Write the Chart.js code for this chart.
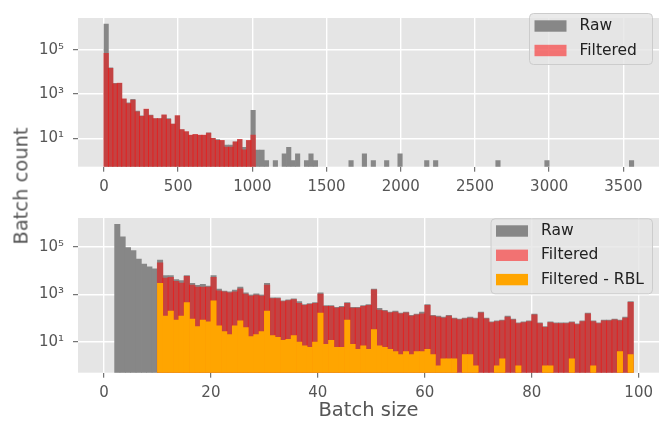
<!DOCTYPE html>
<html>
<head>
<meta charset="utf-8">
<script src="https://cdn.jsdelivr.net/npm/chart.js@4.4.0/dist/chart.umd.min.js"></script>
<style>
html, body { margin: 0; padding: 0; background: #ffffff; }
#wrap { position: relative; width: 665px; height: 426px; font-family: "DejaVu Sans", sans-serif; }
#wrap canvas { position: absolute; left: 0; }
#ylab { position: absolute; left: 21px; top: 186px; transform: translate(-50%, -50%) rotate(-90deg);
        font-size: 19.5px; color: #555555; white-space: nowrap; }
</style>
</head>
<body>
<div id="wrap">
  <canvas id="topChart" width="665" height="200" style="top:0"></canvas>
  <canvas id="bottomChart" width="665" height="226" style="top:200px"></canvas>
  <div id="ylab">Batch count</div>
</div>
<script>
// Top histogram: bins of width 30 starting at 0
const topBinStart = 0;
const topBinWidth = 30;
const topRaw = [
  1480000, 15500, 3090, 3090, 600, 407, 589, 170, 105, 209,
  115, 78, 78, 115, 78, 44, 105, 25, 20, 14,
  15, 14, 14, 18, 10, 9, 8, 5, 5, 7,
  9, 4, 8, 186, 3, 3, 1, 0, 1, 0,
  2, 4, 1, 2, 0, 1, 2, 1, 0, 0,
  0, 0, 0, 0, 0, 1, 0, 0, 2, 0,
  1, 0, 0, 1, 0, 0, 2, 0, 0, 0,
  0, 0, 1, 0, 1, 0, 0, 0, 0, 0,
  0, 0, 0, 0, 0, 0, 0, 0, 1, 0,
  0, 0, 0, 0, 0, 0, 0, 0, 0, 1,
  0, 0, 0, 0, 0, 0, 0, 0, 0, 0,
  0, 0, 0, 0, 0, 0, 0, 0, 1, 0
];
const topFiltered = [
  69000, 14500, 2880, 3090, 600, 372, 537, 158, 98, 209,
  107, 78, 78, 115, 72, 44, 105, 25, 20, 14,
  15, 14, 14, 17, 10, 8, 8, 4, 4, 7,
  9, 3, 8, 14
];

// Bottom histogram: bins of width 1 starting at 2
const bottomBinStart = 2;
const bottomBinWidth = 1;
const bottomRaw = [
  891000, 263000, 93300, 70800, 30900, 19100, 14500, 12000,
  28200, 6310, 6310, 4270, 3890, 6310, 2950, 2450, 2690, 2240,
  6310, 1700, 1410, 1290, 1550, 2040, 1170, 977, 1070, 977,
  2950, 724, 724, 550, 603, 661, 501, 380, 417, 457,
  1170, 347, 347, 288, 316, 457, 288, 288, 347, 380,
  1700, 263, 219, 182, 200, 166, 182, 135, 151, 182,
  380, 135, 123, 112, 135, 102, 93, 102, 112, 102,
  182, 102, 71, 78, 85, 123, 93, 65, 71, 78,
  151, 65, 45, 71, 65, 65, 65, 71, 59, 78,
  166, 78, 65, 85, 85, 93, 85, 112, 501
];
const bottomFiltered = [
  0, 0, 0, 0, 0, 0, 0, 0,
  20900, 4790, 5250, 3550, 2950, 5750, 2450, 2040, 2040, 2040,
  5250, 1410, 1290, 1170, 1290, 1700, 1020, 851, 933, 851,
  2450, 661, 661, 501, 550, 603, 417, 347, 380, 417,
  1020, 316, 316, 263, 288, 417, 263, 263, 316, 347,
  1550, 219, 200, 166, 182, 151, 166, 123, 138, 151,
  347, 123, 112, 102, 123, 93, 85, 93, 102, 93,
  166, 93, 65, 71, 78, 112, 85, 59, 65, 71,
  138, 59, 41, 65, 59, 59, 59, 65, 54, 71,
  151, 71, 59, 78, 78, 85, 78, 102, 457
];
const bottomRbl = [
  0, 0, 0, 0, 0, 0, 0, 0,
  2950, 123, 200, 85, 123, 457, 93, 45, 85, 71,
  550, 49, 28, 21, 49, 78, 41, 17, 21, 28,
  200, 19, 16, 12, 13, 19, 10, 7, 6, 10,
  166, 8, 12, 6, 6, 85, 8, 5, 7, 5,
  34, 7, 6, 5, 4, 3, 4, 3, 4, 4,
  5, 3, 1, 2, 2, 2, 0, 3, 3, 1,
  0, 0, 0, 1, 2, 0, 0, 1, 0, 0,
  0, 0, 1, 1, 0, 0, 0, 2, 0, 0,
  0, 1, 0, 0, 0, 0, 4, 0, 3
];

const topXTicks = [0, 500, 1000, 1500, 2000, 2500, 3000, 3500];
const bottomXTicks = [0, 20, 40, 60, 80, 100];
const yTicks = [10, 1000, 100000];
const seriesLabels = ['Raw', 'Filtered', 'Filtered - RBL'];

const RAW_COLOR = '#878787';
const FILT_COLOR = 'rgba(255, 0, 0, 0.5)';
const RBL_COLOR = '#ffa500';
const SUP = { 1: '\u00b9', 3: '\u00b3', 5: '\u2075' };

Chart.defaults.font.family = '"DejaVu Sans", sans-serif';

function toPoints(counts, start, width) {
  return counts.map((c, i) => ({ x: start + (i + 0.5) * width, y: c > 0 ? c : null }));
}

// ggplot-like grey panel behind the grid
const panelBg = {
  id: 'panelBg',
  beforeDraw(chart) {
    const a = chart.chartArea;
    chart.ctx.save();
    chart.ctx.fillStyle = '#e5e5e5';
    chart.ctx.fillRect(a.left, a.top, a.right - a.left, a.bottom - a.top);
    chart.ctx.restore();
  }
};

// legend drawn inside the axes, matplotlib style
const boxLegend = {
  id: 'boxLegend',
  afterDatasetsDraw(chart, args, o) {
    const ctx = chart.ctx;
    ctx.save();
    ctx.beginPath();
    ctx.roundRect(o.left + 0.5, o.top + 0.5, o.width, o.height, 4);
    ctx.fillStyle = 'rgba(229,229,229,0.8)';
    ctx.fill();
    ctx.strokeStyle = '#cccccc';
    ctx.lineWidth = 1;
    ctx.stroke();
    ctx.font = '15.5px "DejaVu Sans"';
    ctx.textBaseline = 'middle';
    ctx.textAlign = 'left';
    o.items.forEach((it, i) => {
      const cy = o.top + o.firstRow + i * o.rowGap;
      ctx.fillStyle = it.color;
      ctx.fillRect(o.left + 5.5, cy - 5.7, 32, 11.4);
      ctx.fillStyle = '#222222';
      ctx.fillText(it.label, o.left + 50.5, cy);
    });
    ctx.restore();
  }
};

function gridOpts() {
  return { color: '#ffffff', lineWidth: 1.4, tickColor: '#555555', tickLength: 5, tickWidth: 1, offset: false };
}

function logAxis() {
  return {
    type: 'logarithmic',
    grid: gridOpts(),
    border: { display: false },
    afterBuildTicks: s => { s.ticks = yTicks.map(v => ({ value: v })); },
    afterFit: s => { s.width = 78; },
    ticks: {
      color: '#555555', font: { size: 15 }, padding: 9,
      callback: v => '10' + SUP[Math.round(Math.log10(v))]
    }
  };
}

function linAxis(min, max, tickList, height) {
  return {
    type: 'linear', min: min, max: max, offset: false,
    grid: gridOpts(), border: { display: false },
    afterBuildTicks: s => { s.ticks = tickList.map(v => ({ value: v })); },
    afterFit: s => { s.height = height; },
    ticks: { color: '#555555', font: { size: 15 }, padding: 6, maxRotation: 0, autoSkip: false,
             callback: v => String(v) }
  };
}

function baseOptions() {
  return {
    responsive: false,
    animation: false,
    events: [],
    datasets: { bar: { grouped: false, barPercentage: 1, categoryPercentage: 1 } },
    plugins: { legend: { display: false }, tooltip: { enabled: false } }
  };
}

// ---- top chart ----
const topOpts = baseOptions();
topOpts.layout = { padding: { top: 7, right: 6, bottom: 0, left: 0 } };
topOpts.plugins.boxLegend = {
  left: 529, top: 13, width: 123, height: 51, firstRow: 13, rowGap: 24.5,
  items: [{ label: seriesLabels[0], color: RAW_COLOR }, { label: seriesLabels[1], color: FILT_COLOR }]
};
topOpts.scales = {
  x: linAxis(-175, 3740, topXTicks, 33.3),
  y: Object.assign(logAxis(), { min: 0.53, max: 2.75e6 })
};

new Chart(document.getElementById('topChart'), {
  type: 'bar',
  data: {
    datasets: [
      { label: seriesLabels[0], data: toPoints(topRaw, topBinStart, topBinWidth), backgroundColor: RAW_COLOR, order: 3 },
      { label: seriesLabels[1], data: toPoints(topFiltered, topBinStart, topBinWidth), backgroundColor: FILT_COLOR, order: 2, inflateAmount: 0.5 }
    ]
  },
  options: topOpts,
  plugins: [panelBg, boxLegend]
});

// ---- bottom chart ----
const botOpts = baseOptions();
botOpts.layout = { padding: { top: 12.3, right: 6, bottom: 0, left: 0 } };
botOpts.plugins.boxLegend = {
  left: 490.5, top: 18.3, width: 161.5, height: 75, firstRow: 12.7, rowGap: 24.3,
  items: [
    { label: seriesLabels[0], color: RAW_COLOR },
    { label: seriesLabels[1], color: FILT_COLOR },
    { label: seriesLabels[2], color: RBL_COLOR }
  ]
};
const botX = linAxis(-4.85, 103.8, bottomXTicks, 53.3);
botX.title = { display: true, text: 'Batch size', color: '#555555', font: { size: 19.5 }, padding: { top: 0, bottom: 3.6 } };
botOpts.scales = {
  x: botX,
  y: Object.assign(logAxis(), { min: 0.52, max: 1.64e6 })
};

new Chart(document.getElementById('bottomChart'), {
  type: 'bar',
  data: {
    datasets: [
      { label: seriesLabels[0], data: toPoints(bottomRaw, bottomBinStart, bottomBinWidth), backgroundColor: RAW_COLOR, order: 3 },
      { label: seriesLabels[1], data: toPoints(bottomFiltered, bottomBinStart, bottomBinWidth), backgroundColor: FILT_COLOR, order: 2, inflateAmount: 0.5 },
      { label: seriesLabels[2], data: toPoints(bottomRbl, bottomBinStart, bottomBinWidth), backgroundColor: RBL_COLOR, order: 1 }
    ]
  },
  options: botOpts,
  plugins: [panelBg, boxLegend]
});
</script>
</body>
</html>
